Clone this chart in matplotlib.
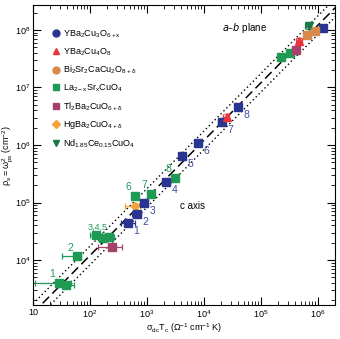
import numpy as np
import matplotlib
matplotlib.use('Agg')
import matplotlib.pyplot as plt
from matplotlib.ticker import LogLocator, FuncFormatter, NullFormatter
from matplotlib.lines import Line2D

plt.rcParams['font.family'] = ['Liberation Sans', 'DejaVu Sans']
plt.rcParams['mathtext.default'] = 'regular'

# YBa2Cu3O6+x: c axis (1-6), a-b plane (7, 8 and top)
ybco_x = [464, 660, 890, 2150, 4080, 7850, 20700, 40000, 1.23e6]
ybco_y = [4.4e4, 6.3e4, 9.8e4, 2.3e5, 6.45e5, 1.08e6, 2.5e6, 4.6e6, 1.07e8]
ybco_lo = [350, 540, 760, 1850, 3600, 6900, 18000, 35000, 1.05e6]
ybco_hi = [610, 790, 1030, 2500, 4600, 8900, 23500, 45000, 1.4e6]
ybco_lbl = ['1', '2', '3', '4', '5', '6', '7', '8', '']

# YBa2Cu4O8 (a-b plane)
y124_x = [25000, 470000]
y124_y = [3.1e6, 6.4e7]

# Bi2Sr2CaCu2O8 (a-b plane)
bi_x = [650000, 890000]
bi_y = [8.1e7, 9.6e7]

# La2-xSrxCuO4: c axis (1-8), a-b plane
lsco_x = [28.6, 38, 59, 127, 170, 215, 616, 1180, 3100, 224000, 325000]
lsco_y = [4000, 3670, 11700, 27000, 24000, 25000, 1.3e5, 1.41e5, 2.7e5, 3.4e7, 4.0e7]
lsco_lo = [11, 25, 32, 100, 140, 180, 540, 1050, 2750, 200000, 290000]
lsco_hi = [46, 53, 69, 160, 210, 260, 700, 1330, 3500, 250000, 365000]
lsco_lbl = ['1', '', '2', '', '', '', '6', '7', '8', '', '']

# Tl2Ba2CuO6: c axis, a-b plane
tl_x = [243, 410000]
tl_y = [1.68e4, 4.5e7]
tl_lo = [140, 370000]
tl_hi = [365, 455000]

# HgBa2CuO4 (c axis)
hg_x = [616]
hg_y = [8.7e4]
hg_lo = [410]
hg_hi = [750]

# Nd1.85Ce0.15CuO4 (a-b plane)
nd_x = [690000]
nd_y = [1.18e8]

slope = 120.0

blue = '#2a3592'
red = '#e8343a'
bi_col = '#d9894a'
green = '#1f9a55'
tl_col = '#a5426c'
hg_col = '#f4a23a'
nd_col = '#18784a'

fig = plt.figure(figsize=(3.4, 3.39), dpi=100)
ax = fig.add_axes([0.097, 0.1, 0.888, 0.885])
ax.set_xscale('log')
ax.set_yscale('log')

xs = np.array([10, 3e6])
ax.plot(xs, slope * xs, color='black', lw=1.1, ls=(0, (6, 3)), zorder=1)
ax.plot(xs, slope * 1.45 * xs, color='black', lw=1.0, ls=(0, (1, 2)), zorder=1)
ax.plot(xs, slope / 1.45 * xs, color='black', lw=1.0, ls=(0, (1, 2)), zorder=1)


def series(x, y, lo, hi, col, mk, ms=5.5):
    x = np.array(x, float)
    y = np.array(y, float)
    if lo is None:
        xerr = [x * 0.12, x * 0.12]
    else:
        xerr = [x - np.array(lo), np.array(hi) - x]
    yerr = [y * 0.12, y * 0.12]
    ax.errorbar(x, y, xerr=xerr, yerr=yerr, fmt=mk, color=col, ms=ms,
                mec=col, elinewidth=0.9, capsize=2, capthick=0.9, zorder=3)


series(lsco_x, lsco_y, lsco_lo, lsco_hi, green, 's')
series(tl_x, tl_y, tl_lo, tl_hi, tl_col, 's')
series(hg_x, hg_y, hg_lo, hg_hi, hg_col, 'D', 4.5)
series(ybco_x, ybco_y, ybco_lo, ybco_hi, blue, 's')
series(y124_x, y124_y, None, None, red, '^')
series(bi_x, bi_y, None, None, bi_col, 's')
series(nd_x, nd_y, None, None, nd_col, 'v')

for x, y, t in zip(ybco_x, ybco_y, ybco_lbl):
    ax.annotate(t, (x, y), xytext=(4, -8), textcoords='offset points',
                color='#3b4aa0', fontsize=7.5)

for x, y, t in zip(lsco_x, lsco_y, lsco_lbl):
    ax.annotate(t, (x, y), xytext=(-7, 4), textcoords='offset points',
                color=green, fontsize=7.5)
ax.annotate('3,4,5', (127, 27000), xytext=(-6, 4), textcoords='offset points',
            color=green, fontsize=6.5)

ax.text(0.70, 0.925, '$\\it{a}$–$\\it{b}$ plane', transform=ax.transAxes,
        fontsize=7, ha='center', va='center')
ax.text(0.53, 0.33, 'c axis', transform=ax.transAxes, fontsize=7,
        ha='center', va='center')

ax.set_xlim(10, 2e6)
ax.set_ylim(1650, 2.7e8)


def fmt(v, pos):
    e = int(round(np.log10(v)))
    return '10' if e == 1 else '$10^{%d}$' % e


ax.xaxis.set_major_locator(LogLocator(base=10, numticks=10))
ax.yaxis.set_major_locator(LogLocator(base=10, numticks=10))
ax.xaxis.set_major_formatter(FuncFormatter(fmt))
ax.yaxis.set_major_formatter(FuncFormatter(fmt))
ax.xaxis.set_minor_formatter(NullFormatter())
ax.yaxis.set_minor_formatter(NullFormatter())
ax.tick_params(which='both', direction='in', top=True, right=True,
               labelsize=6.5, pad=2)
ax.tick_params(which='major', length=6, width=0.8)
ax.tick_params(which='minor', length=3, width=0.6)
for s in ax.spines.values():
    s.set_linewidth(0.8)

ax.set_xlabel('$\\sigma_{dc}T_c$ ($\\Omega^{-1}$ cm$^{-1}$ K)', fontsize=6.5, labelpad=1)
ax.set_ylabel('$\\rho_s = \\omega_{ps}^2$ (cm$^{-2}$)', fontsize=6.5, labelpad=0)

names = ['YBa$_2$Cu$_3$O$_{6+x}$', 'YBa$_2$Cu$_4$O$_8$',
         'Bi$_2$Sr$_2$CaCu$_2$O$_{8+\\delta}$', 'La$_{2-x}$Sr$_x$CuO$_4$',
         'Tl$_2$Ba$_2$CuO$_{6+\\delta}$', 'HgBa$_2$CuO$_{4+\\delta}$',
         'Nd$_{1.85}$Ce$_{0.15}$CuO$_4$']
marks = ['o', '^', 'o', 's', 's', 'D', 'v']
cols = [blue, red, bi_col, green, tl_col, hg_col, nd_col]
handles = [Line2D([], [], ls='none', marker=m, color=c, ms=5 if m != 'D' else 4.5)
           for m, c in zip(marks, cols)]
ax.legend(handles, names, loc='upper left', bbox_to_anchor=(0.045, 0.935),
          frameon=False, fontsize=6.5, handletextpad=0.2, labelspacing=0.7,
          handlelength=1.2, borderaxespad=0)

fig.savefig('out.png', dpi=100)
